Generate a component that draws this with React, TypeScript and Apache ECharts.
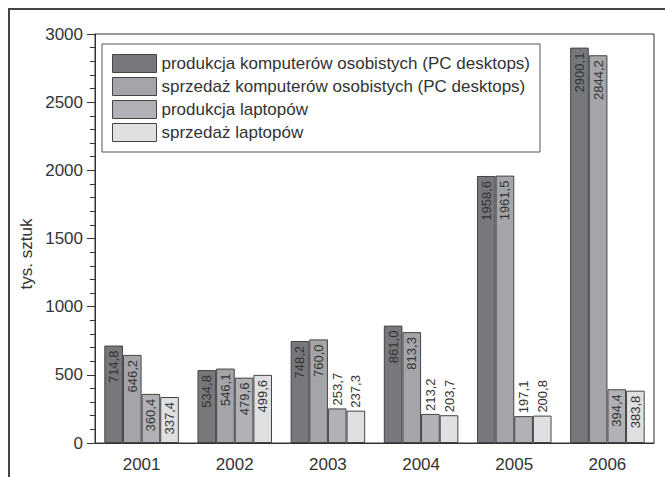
import React, { useEffect, useRef } from "react";
import * as echarts from "echarts";

const categories = ["2001", "2002", "2003", "2004", "2005", "2006"];
const seriesNames = [
  "produkcja komputerów osobistych (PC desktops)",
  "sprzedaż komputerów osobistych (PC desktops)",
  "produkcja laptopów",
  "sprzedaż laptopów",
];
const pcProduction = [714.8, 534.8, 748.2, 861.0, 1958.6, 2900.1];
const pcSales = [646.2, 546.1, 760.0, 813.3, 1961.5, 2844.2];
const laptopProduction = [360.4, 479.6, 253.7, 213.2, 197.1, 394.4];
const laptopSales = [337.4, 499.6, 237.3, 203.7, 200.8, 383.8];
const colors = ["#77787c", "#a4a5a8", "#b1b2b5", "#dfe0e2"];
const yAxisTitle = "tys. sztuk";

const FONT = "Liberation Sans, Arial, sans-serif";

function makeData(values: number[]) {
  return values.map((v) => {
    const inside = v >= 300;
    return {
      value: v,
      label: inside
        ? { position: "insideTop", align: "right", verticalAlign: "middle", distance: 5 }
        : { position: "top", align: "left", verticalAlign: "middle", distance: 3 },
    };
  });
}

export default function App() {
  const ref = useRef<HTMLDivElement>(null);
  useEffect(() => {
    document.body.style.margin = "0";
    const chart = echarts.init(ref.current!, null, { renderer: "svg" });
    const all = [pcProduction, pcSales, laptopProduction, laptopSales];
    chart.setOption({
      animation: false,
      backgroundColor: "#ffffff",
      textStyle: { fontFamily: FONT },
      grid: {
        left: 95,
        right: 11,
        top: 34,
        bottom: 34,
        show: true,
        borderColor: "#333",
        borderWidth: 1,
      },
      legend: {
        orient: "vertical",
        left: 102,
        top: 44,
        itemWidth: 44,
        itemHeight: 18,
        itemGap: 4,
        itemTextGap: 8,
        padding: [10, 10, 10, 10],
        borderColor: "#555",
        borderWidth: 1,
        backgroundColor: "#fff",
        icon: "rect",
        itemStyle: { borderColor: "#444", borderWidth: 1 },
        textStyle: { fontSize: 17, color: "#333", fontFamily: FONT },
        data: seriesNames,
      },
      xAxis: {
        type: "category",
        data: categories,
        axisLine: { lineStyle: { color: "#333", width: 1 } },
        axisTick: { alignWithLabel: true, length: 7, lineStyle: { color: "#333" } },
        axisLabel: { fontSize: 17, color: "#333", margin: 13, fontFamily: FONT },
      },
      yAxis: {
        type: "value",
        min: 0,
        max: 3000,
        interval: 500,
        axisLine: { show: true, lineStyle: { color: "#333", width: 1 } },
        axisTick: { show: true, length: 8, lineStyle: { color: "#333" } },
        minorTick: { show: true, splitNumber: 5, length: 5, lineStyle: { color: "#333" } },
        splitLine: { show: false },
        axisLabel: {
          fontSize: 17,
          color: "#333",
          margin: 12,
          fontFamily: FONT,
          formatter: (v: number) => String(v),
        },
      },
      graphic: [
        {
          type: "polyline",
          shape: { points: [[9, 477], [9, 9], [665, 9]] },
          style: { stroke: "#444", lineWidth: 2, fill: null },
          silent: true,
        },
        {
          type: "text",
          x: 26,
          y: 254,
          rotation: Math.PI / 2,
          style: {
            text: yAxisTitle,
            fontSize: 17,
            fill: "#333",
            fontFamily: FONT,
            align: "center",
            verticalAlign: "middle",
          },
        },
      ],
      series: all.map((vals, i) => ({
        type: "bar",
        name: seriesNames[i],
        data: makeData(vals),
        barGap: "0%",
        barCategoryGap: "20%",
        itemStyle: { color: colors[i], borderColor: "#444", borderWidth: 1 },
        label: {
          show: true,
          rotate: 90,
          fontSize: 13,
          color: "#333",
          fontFamily: FONT,
          formatter: (p: any) => Number(p.value).toFixed(1).replace(".", ","),
        },
      })),
    });
    return () => chart.dispose();
  }, []);
  return (
    <div
      ref={ref}
      style={{ position: "fixed", left: 0, top: 0, width: 665, height: 477 }}
    />
  );
}
